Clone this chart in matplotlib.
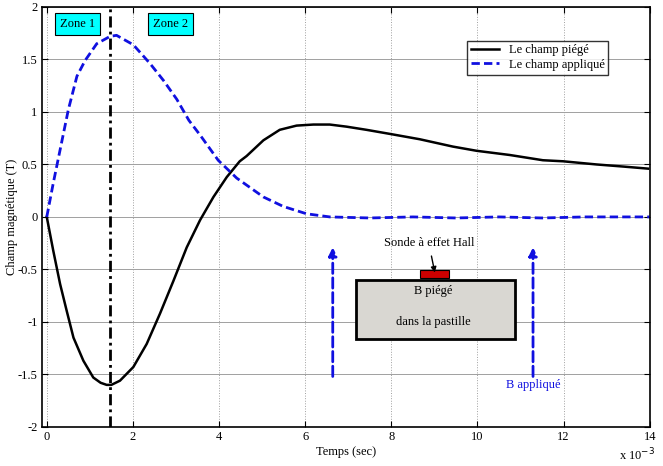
import matplotlib
matplotlib.use("Agg")
import matplotlib.pyplot as plt
from matplotlib.patches import Rectangle

plt.rcParams['font.family'] = ['Liberation Serif', 'DejaVu Serif']

# temps en ms (axe affiché x 10^-3 s)
t_piege = [0, 0.15, 0.31, 0.46, 0.62, 0.85, 1.08, 1.25, 1.39, 1.50, 1.70, 2.01, 2.32,
           2.63, 2.94, 3.25, 3.56, 3.87, 4.18, 4.48, 4.64, 5.03, 5.41, 5.80, 6.19,
           6.57, 6.96, 7.42, 7.98, 8.66, 9.43, 9.98, 10.75, 11.52, 11.99, 12.76,
           13.38, 13.96]
b_piege = [0, -0.32, -0.64, -0.89, -1.15, -1.37, -1.53, -1.58, -1.60, -1.60, -1.56,
           -1.43, -1.21, -0.92, -0.61, -0.29, -0.03, 0.19, 0.38, 0.53, 0.58, 0.73,
           0.83, 0.87, 0.88, 0.88, 0.86, 0.83, 0.79, 0.74, 0.67, 0.63, 0.59, 0.54,
           0.53, 0.50, 0.48, 0.46]

t_appl = [0, 0.15, 0.31, 0.50, 0.70, 0.89, 1.16, 1.47, 1.62, 2.01, 2.40, 2.71, 3.02,
          3.30, 3.56, 3.98, 4.41, 5.03, 5.49, 6.03, 6.57, 7.5, 8.5, 9.5, 10.5, 11.5,
          12.5, 13.5, 14.0]
b_appl = [0, 0.32, 0.64, 1.02, 1.34, 1.49, 1.65, 1.72, 1.73, 1.64, 1.46, 1.30, 1.12,
          0.92, 0.78, 0.54, 0.37, 0.19, 0.10, 0.03, 0.0, -0.01, 0.0, -0.01, 0.0,
          -0.01, 0.0, 0.0, 0.0]

t_zone = 1.46
x_ticks = [0, 2, 4, 6, 8, 10, 12, 14]
y_ticks = [-2, -1.5, -1, -0.5, 0, 0.5, 1, 1.5, 2]
y_labels = ['-2', '-1.5', '-1', '-0.5', '0', '0.5', '1', '1.5', '2']

fig = plt.figure(figsize=(6.63, 4.66), dpi=100)
ax = fig.add_axes([0.063, 0.084, 0.917, 0.901])

ax.plot(t_piege, b_piege, color='black', lw=1.8, label='Le champ piégé')
ax.plot(t_appl, b_appl, color='#1010e0', lw=2, ls=(0, (3, 1.5)), label='Le champ appliqué')
ax.axvline(t_zone, color='black', lw=2, ls=(0, (4, 1.5, 1, 1.5)))

ax.set_xlim(-0.116, 14)
ax.set_ylim(-2, 2)
ax.set_xticks(x_ticks)
ax.set_yticks(y_ticks)
ax.set_yticklabels(y_labels)
ax.tick_params(direction='in', labelsize=9, top=True, right=True, length=4, pad=3)
ax.grid(True, axis='y', color='#a0a0a0', lw=0.7, ls='-')
ax.grid(True, axis='x', color='#a0a0a0', lw=0.7, ls=':')
for s in ax.spines.values():
    s.set_linewidth(1.2)

ax.set_xlabel('Temps (sec)', fontsize=9, labelpad=2)
ax.set_ylabel('Champ magnétique (T)', fontsize=9)
ax.yaxis.set_label_coords(-0.039, 0.5)
fig.text(0.933, 0.012, 'x 10$^{-3}$', fontsize=9, ha='left')

leg = ax.legend(loc='upper right', bbox_to_anchor=(0.942, 0.935), fontsize=9,
                frameon=True, fancybox=False, edgecolor='black', handlelength=2.2,
                borderpad=0.3, labelspacing=0.2)
leg.get_frame().set_linewidth(1)

# zones
for x, txt in [(0.72, 'Zone 1'), (2.88, 'Zone 2')]:
    ax.text(x, 1.84, txt, fontsize=9, ha='center', va='center',
            bbox=dict(boxstyle='square,pad=0.4', fc='#00ffff', ec='black', lw=0.8))

# schéma de la pastille
ax.add_patch(Rectangle((7.17, -1.16), 3.70, 0.56, fc='#d9d7d2', ec='black', lw=2, zorder=3))
ax.add_patch(Rectangle((8.66, -0.58), 0.68, 0.07, fc='#cc0000', ec='black', lw=0.8, zorder=3))
ax.text(8.97, -0.71, 'B piégé', fontsize=9, ha='center', va='center', zorder=4)
ax.text(8.97, -1.00, 'dans la pastille', fontsize=9, ha='center', va='center', zorder=4)
ax.annotate('Sonde à effet Hall', xy=(9.01, -0.53), xytext=(8.87, -0.25),
            fontsize=9, ha='center', va='center',
            arrowprops=dict(arrowstyle='-|>', color='black', lw=1, shrinkA=3, shrinkB=0,
                            mutation_scale=8))
for x in [6.64, 11.29]:
    ax.annotate('', xy=(x, -0.29), xytext=(x, -1.52),
                arrowprops=dict(arrowstyle='-|>', color='#1010e0', lw=2, ls='--',
                                mutation_scale=12, shrinkA=0, shrinkB=0))
ax.text(11.29, -1.60, 'B appliqué', fontsize=9, color='#1010e0', ha='center', va='center')

fig.savefig('out.png', dpi=100)
